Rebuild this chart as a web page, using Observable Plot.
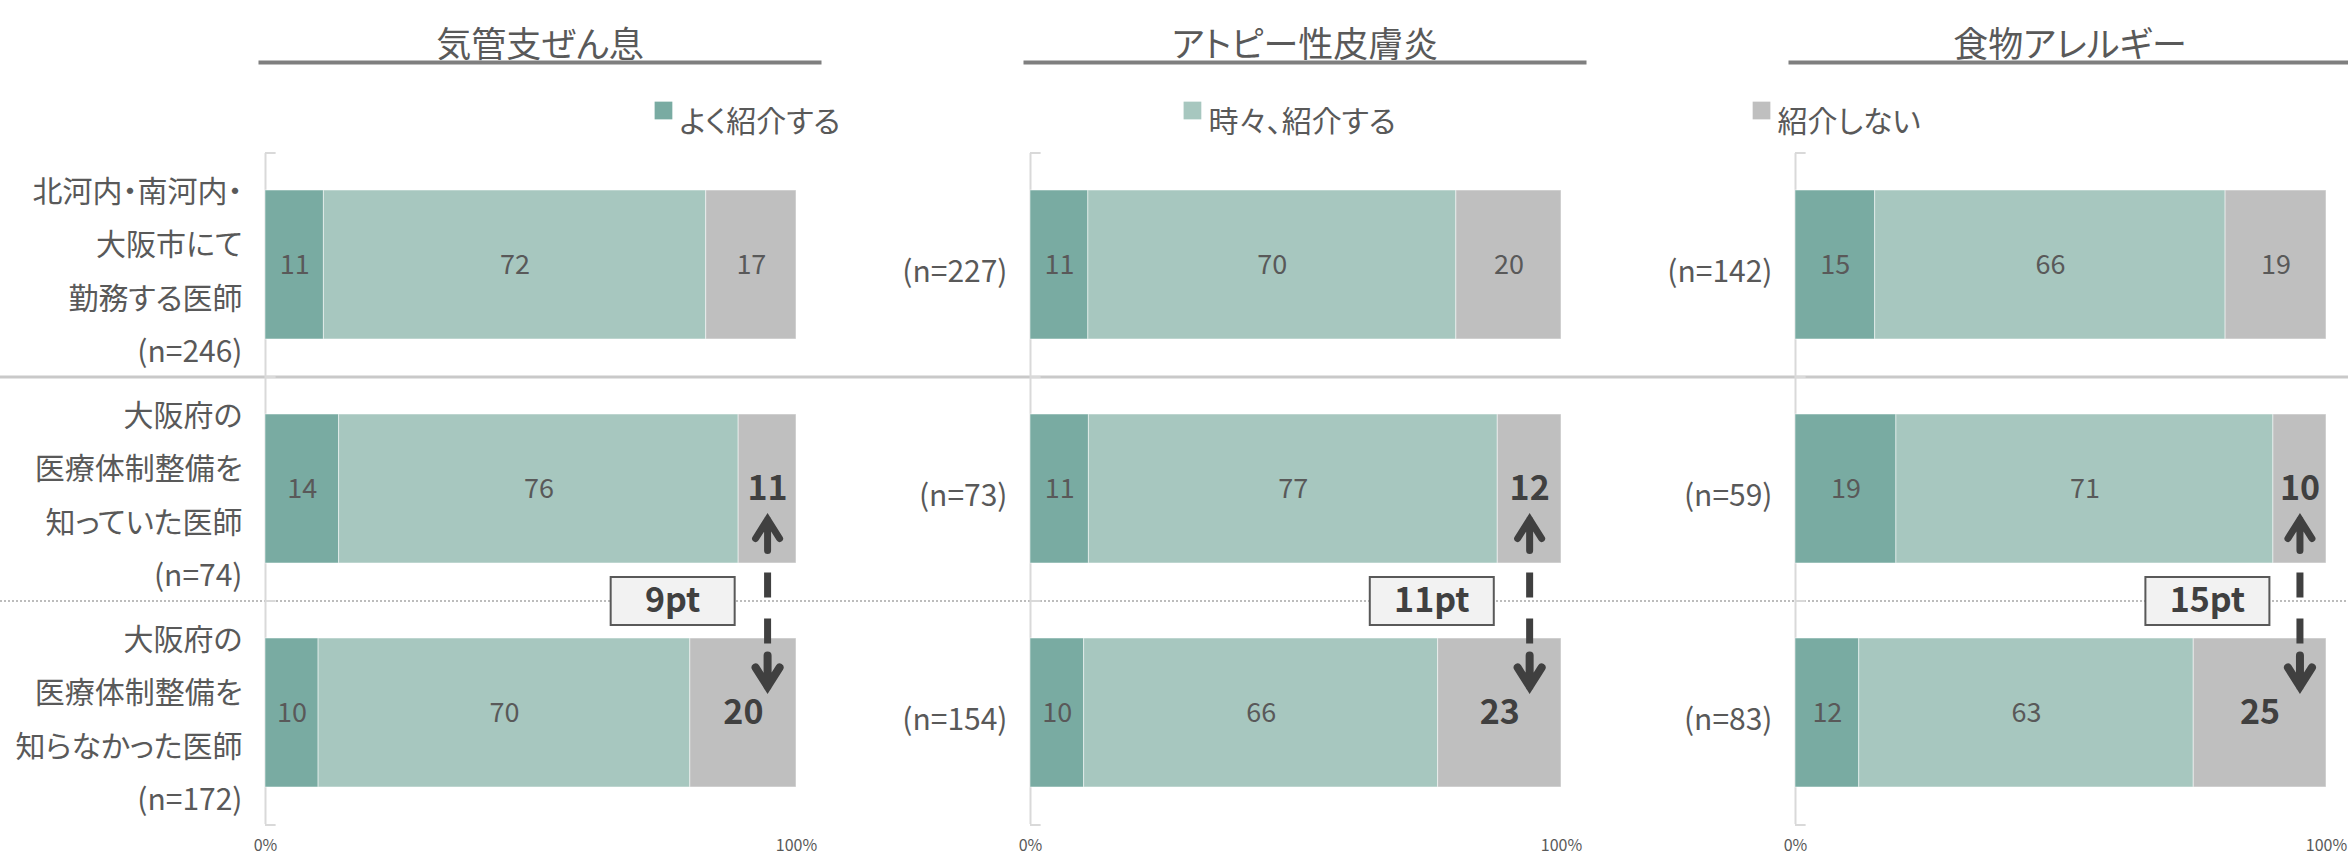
<!DOCTYPE html>
<html><head><meta charset="utf-8">
<script src="https://cdn.jsdelivr.net/npm/d3@7"></script>
<script src="https://cdn.jsdelivr.net/npm/@observablehq/plot@0.6"></script>
<style>
html,body{margin:0;padding:0;background:#fff;}
#chart{width:2348px;height:855px;overflow:hidden;}
</style></head><body><div id="chart"></div>
<script>
// ---- data ----
const diseases = ["気管支ぜん息", "アトピー性皮膚炎", "食物アレルギー"];
const groups = [
  "北河内・南河内・\n大阪市にて\n勤務する医師",
  "大阪府の\n医療体制整備を\n知っていた医師",
  "大阪府の\n医療体制整備を\n知らなかった医師"
];
const categories = ["よく紹介する", "時々、紹介する", "紹介しない"];
const sampleSizes = [[246, 74, 172], [227, 73, 154], [142, 59, 83]];
const often     = [[11, 14, 10], [11, 11, 10], [15, 19, 12]];
const sometimes = [[72, 76, 70], [70, 77, 66], [66, 71, 63]];
const never     = [[17, 11, 20], [20, 12, 23], [19, 10, 25]];
const xTicks = [0, 1];

// ---- styles / layout ----
const colors = ["#79aba2", "#a7c7bf", "#bfbfbf"];
const W = 2348, H = 855, mL = 265, mR = 22, mT = 153, mB = 31;
const yPadInner = 0.335, yPadOuter = 0.165;
const step = (H - mT - mB) / (3 - yPadInner + 2 * yPadOuter);
const facetW = 531;
const facetStep = ((W - mL - mR) - facetW) / 2;
const fxPad = 1 - facetW / facetStep;
const legendX = [0.7495, 0.305, -0.064];
const textColor = "#595959", darkColor = "#404040";

// ---- derived table ----
const series = [often, sometimes, never];
const table = [];
diseases.forEach((dis, d) => groups.forEach((grp, g) => categories.forEach((cat, c) => {
  table.push({disease: dis, group: grp, cat, c, g, value: series[c][d][g]});
})));
const labels = [];
diseases.forEach((dis, d) => groups.forEach((grp, g) => {
  labels.push({disease: dis, group: grp, text: (d === 0 ? grp + "\n" : "") + `(n=${sampleSizes[d][g]})`});
}));
const diffs = diseases.map((dis, d) => {
  const tot = often[d][1] + sometimes[d][1] + never[d][1];
  const share = never[d][1] / tot;
  return {disease: dis, start: 1 - share, mid: 1 - share / 2, label: `${never[d][2] - never[d][1]}pt`};
});
const legendItems = categories.map((cat, i) => ({cat, disease: diseases[i], x: legendX[i]}));

const isBold = d => d.c === 2 && d.g > 0;

// arrow-head symbols (size is ignored; shape in pixels)
const headUp = {draw(ctx) {
  ctx.moveTo(-12, 5); ctx.lineTo(0, -14); ctx.lineTo(12, 5);
  ctx.moveTo(0, -14); ctx.lineTo(0, 17); }};
const headDown = {draw(ctx) {
  ctx.moveTo(-12, -5); ctx.lineTo(0, 14); ctx.lineTo(12, -5);
  ctx.moveTo(0, 14); ctx.lineTo(0, -17); }};
const boxShape = {draw(ctx) { ctx.rect(-62, -24, 124, 48); }};

const chart = Plot.plot({
  width: W, height: H,
  marginLeft: mL, marginRight: mR, marginTop: mT, marginBottom: mB,
  style: {fontFamily: "'Noto Sans CJK JP', 'Noto Sans', sans-serif", fontFeatureSettings: "'palt'", color: textColor, background: "#fff", overflow: "visible"},
  fx: {domain: diseases, paddingInner: fxPad, paddingOuter: 0, axis: null},
  x: {domain: [0, 1], axis: null},
  y: {domain: groups, paddingInner: yPadInner, paddingOuter: yPadOuter, axis: null},
  color: {domain: categories, range: colors},
  marks: [
    // separators across the whole width
    Plot.ruleY([groups[1]], {fx: () => diseases[0], y: d => d, dy: -step / 2, x1: -mL / facetW, x2: (W - mL) / facetW, stroke: "#c9c9c9", strokeWidth: 3}),
    Plot.ruleY([groups[2]], {fx: () => diseases[0], y: d => d, dy: -step / 2, x1: -mL / facetW, x2: (W - mL) / facetW, stroke: "#a6a6a6", strokeWidth: 1.5, strokeDasharray: "2,2"}),
    // category axis line and ticks
    Plot.ruleX([0], {stroke: "#d9d9d9", strokeWidth: 2}),
    Plot.ruleY(groups, {y: d => d, dy: -step / 2, x1: 0, x2: 0.02, stroke: "#d9d9d9", strokeWidth: 2}),
    Plot.ruleY([groups[2]], {y: d => d, dy: step / 2, x1: 0, x2: 0.02, stroke: "#d9d9d9", strokeWidth: 2}),
    // bars
    Plot.barX(table, Plot.stackX({x: "value", y: "group", fx: "disease", fill: "cat", offset: "normalize", stroke: "#ffffff", strokeOpacity: 0.5, strokeWidth: 1})),
    // value labels
    Plot.text(table, Plot.stackX({x: "value", y: "group", fx: "disease", offset: "normalize",
      text: d => isBold(d) ? "" : String(d.value), fontSize: 27, fill: textColor})),
    Plot.text(table, Plot.stackX({x: "value", y: "group", fx: "disease", offset: "normalize",
      text: d => isBold(d) ? String(d.value) : "", fontSize: 34, fontWeight: "bold", fill: darkColor})),
    // difference arrows
    Plot.arrow(diffs, {fx: "disease", x1: "mid", x2: "mid", y1: () => groups[1], y2: () => groups[2],
      headLength: 0, insetStart: 83.5, insetEnd: 69.5, stroke: darkColor, strokeWidth: 7,
      strokeDasharray: "25,21", strokeLinecap: "butt"}),
    Plot.dot(diffs, {fx: "disease", x: "mid", y: () => groups[1], dy: 44.5, symbol: headUp, r: 15,
      fill: "none", stroke: darkColor, strokeWidth: 7, strokeLinecap: "round", strokeLinejoin: "miter"}),
    Plot.dot(diffs, {fx: "disease", x: "mid", y: () => groups[2], dy: -40.5, symbol: headDown, r: 15,
      fill: "none", stroke: darkColor, strokeWidth: 8, strokeLinecap: "round", strokeLinejoin: "miter"}),
    Plot.dot(diffs, {fx: "disease", x: "start", dx: -66, y: () => groups[1], dy: step / 2, symbol: boxShape,
      fill: "#f2f2f2", stroke: "#595959", strokeWidth: 2}),
    Plot.text(diffs, {fx: "disease", x: "start", dx: -66, y: () => groups[1], dy: step / 2, text: "label",
      fontSize: 34, fontWeight: "bold", fill: darkColor}),
    // row labels
    Plot.text(labels, {fx: "disease", x: 0, y: "group", dx: -23, text: "text", textAnchor: "end",
      lineHeight: 1.77, fontSize: 30, fill: textColor}),
    // panel titles and rules
    Plot.text(diseases, {fx: d => d, x: 0.517, frameAnchor: "top", dy: -121, text: d => d, fontSize: 35, fill: textColor}),
    Plot.frame({anchor: "top", stroke: "#7f7f7f", strokeWidth: 4, insetTop: -91, insetLeft: -5, insetRight: -23}),
    // legend
    Plot.dot(legendItems, {fx: "disease", x: "x", frameAnchor: "top", dy: -43, symbol: "square", r: 10, fill: "cat"}),
    Plot.text(legendItems, {fx: "disease", x: "x", frameAnchor: "top", dy: -43, dx: 16, text: "cat", textAnchor: "start", fontSize: 30, fill: textColor}),
    // x axis
    Plot.axisX({ticks: xTicks, tickFormat: d3.format(".0%"), tickSize: 0, tickPadding: 15, fontSize: 16, color: textColor, label: null})
  ]
});
document.getElementById("chart").appendChild(chart);
</script>
</body></html>
